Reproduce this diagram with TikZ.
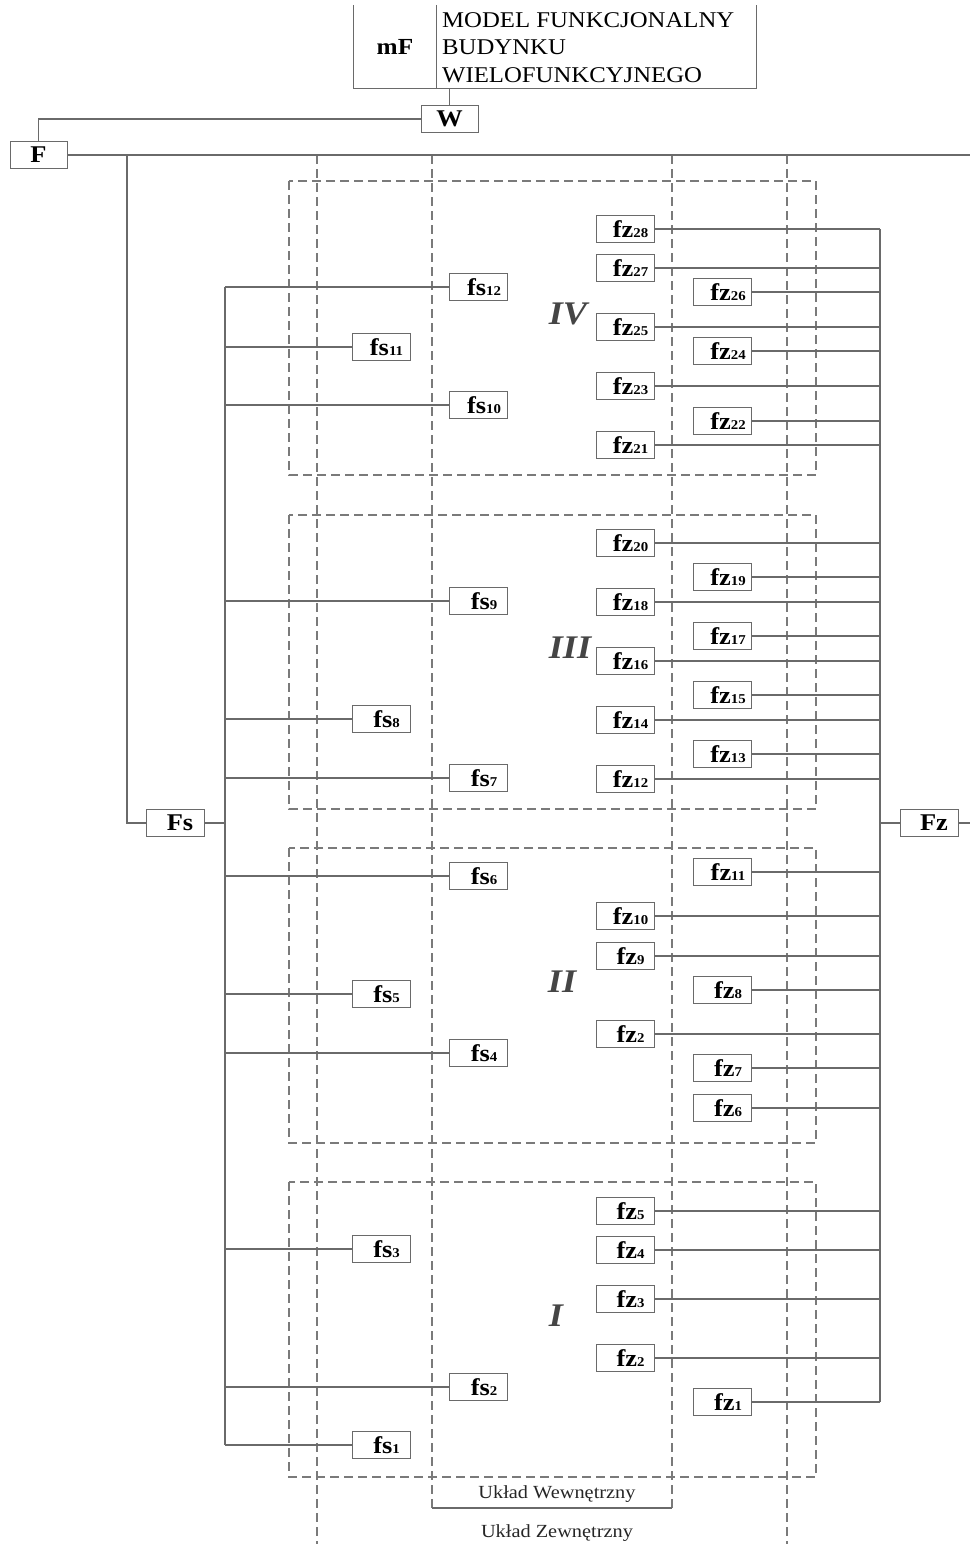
\documentclass[tikz,border=0pt]{standalone}
\usepackage{fontspec}
\setmainfont{Liberation Serif}[FakeStretch=1.1]
\definecolor{lineGray}{HTML}{6A6A6A}
\definecolor{dashGray}{HTML}{7A7A7A}
\definecolor{romGray}{HTML}{454545}
\newcommand{\lbl}[2]{\hspace*{11pt}#1{\fontsize{13.5}{13.5}\selectfont #2}}
\tikzset{
  conn/.style={draw=lineGray, line width=1.1pt},
  region/.style={draw=dashGray, line width=1.1pt, dash pattern=on 9pt off 5pt},
  fnode/.style={draw=lineGray, fill=white, line width=1pt, minimum width=58pt, minimum height=27pt, inner sep=0pt, font=\fontsize{24}{24}\selectfont\bfseries},
  topnode/.style={draw=lineGray, fill=white, line width=1pt, minimum width=57pt, minimum height=27pt, inner sep=0pt, font=\fontsize{24}{24}\selectfont\bfseries},
  roman/.style={text=romGray, font=\fontsize{33}{33}\selectfont\bfseries\itshape, inner sep=0pt},
  uklad/.style={font=\fontsize{18.5}{18.5}\selectfont, text=black!85, inner sep=0pt}
}
\begin{document}
\begin{tikzpicture}[x=1pt, y=-1pt]
\useasboundingbox (0,0) rectangle (970,1544);
% --- dashed regions ---
\draw[region] (317,155) -- (317,1560);
\draw[region] (787,155) -- (787,1560);
\draw[region] (317,155) -- (787,155);
\draw[region] (432,155) -- (432,1508);
\draw[region] (672,155) -- (672,1508);
\draw[conn] (432,1508) -- (672,1508);
\draw[region] (289,181) rectangle (816,475);
\draw[region] (289,515) rectangle (816,809);
\draw[region] (289,848) rectangle (816,1143);
\draw[region] (289,1182) rectangle (816,1477);
\node[uklad] (uw) at (557,1494) {Układ Wewnętrzny};
\node[uklad] (uz) at (557,1533) {Układ Zewnętrzny};
% --- roman numerals ---
\node[roman] (rIV) at (568,314) {IV};
\node[roman] (rIII) at (570,648) {III};
\node[roman] (rII) at (562,982) {II};
\node[roman] (rI) at (556,1316) {I};
% --- top model box ---
\node[minimum width=82pt, minimum height=83pt, inner sep=0pt] (mF) at (395,46.5) {};
\node[minimum width=320pt, minimum height=83pt, inner sep=0pt] (title) at (596,46.5) {};
\draw[conn] (mF.north west) -- (mF.south west) -- (title.south east) -- (title.north east);
\draw[conn] (mF.north east) -- (mF.south east);
\node[font=\fontsize{23}{23}\selectfont\bfseries, inner sep=0pt] (mFt) at (mF.center) {mF};
\node[anchor=west, align=left, inner sep=0pt, font=\fontsize{22.5}{27.5}\selectfont] (titlet) at (442,47.5) {MODEL FUNKCJONALNY\\BUDYNKU\\WIELOFUNKCYJNEGO};
% --- W, F ---
\node[topnode] (W) at (449.5,119) {W};
\node[topnode] (F) at (38.5,155) {F};
\draw[conn] (W.north) -- (W.north |- title.south);
\draw[conn] (W.west) -| (F.north);
\coordinate (edgeTop) at (970,155);
\draw[conn] (F.east) -- (edgeTop);
% --- Fs, Fz ---
\node[fnode] (Fs) at (175.5,823) {\hspace*{9pt}Fs};
\node[fnode] (Fz) at (929,823) {\hspace*{10pt}Fz};
\coordinate (fsTap) at (127,155);
\draw[conn] (fsTap) |- (Fs.west);
\coordinate (busL) at (225,0);
\coordinate (busR) at (880,0);
\coordinate (edgeR) at (970,823);
\draw[conn] (Fs.east) -- (Fs.east -| busL);
\draw[conn] (Fz.west) -- (Fz.west -| busR);
\draw[conn] (Fz.east) -- (edgeR);
% --- fs nodes ---
\foreach \nm/\xx/\yy/\num in {fs12/478.5/287/12, fs11/381/347/11, fs10/478.5/405/10,
  fs9/478.5/601/9, fs8/381/719/8, fs7/478.5/778/7,
  fs6/478.5/876/6, fs5/381/994/5, fs4/478.5/1053/4,
  fs3/381/1249/3, fs2/478.5/1387/2, fs1/381/1445/1}{
  \node[fnode] (\nm) at (\xx,\yy) {\lbl{fs}{\num}};
  \draw[conn] (\nm.west) -- (\nm.west -| busL);
}
\draw[conn] (fs12.west -| busL) -- (fs1.west -| busL);
% --- fz nodes ---
\foreach \nm/\xx/\yy/\num in {fz28/625/229/28, fz27/625/268/27, fz26/722.5/292/26, fz25/625/327/25,
  fz24/722.5/351/24, fz23/625/386/23, fz22/722.5/421/22, fz21/625/445/21,
  fz20/625/543/20, fz19/722.5/577/19, fz18/625/602/18, fz17/722.5/636/17, fz16/625/661/16,
  fz15/722.5/695/15, fz14/625/720/14, fz13/722.5/754/13, fz12/625/779/12,
  fz11/722.5/872/11, fz10/625/916/10, fz9/625/956/9, fz8/722.5/990/8, fz2b/625/1034/2,
  fz7/722.5/1068/7, fz6/722.5/1108/6,
  fz5/625/1211/5, fz4/625/1250/4, fz3/625/1299/3, fz2/625/1358/2, fz1/722.5/1402/1}{
  \node[fnode] (\nm) at (\xx,\yy) {\lbl{fz}{\num}};
  \draw[conn] (\nm.east) -- (\nm.east -| busR);
}
\draw[conn] (fz28.east -| busR) -- (fz1.east -| busR);
\end{tikzpicture}
\end{document}
